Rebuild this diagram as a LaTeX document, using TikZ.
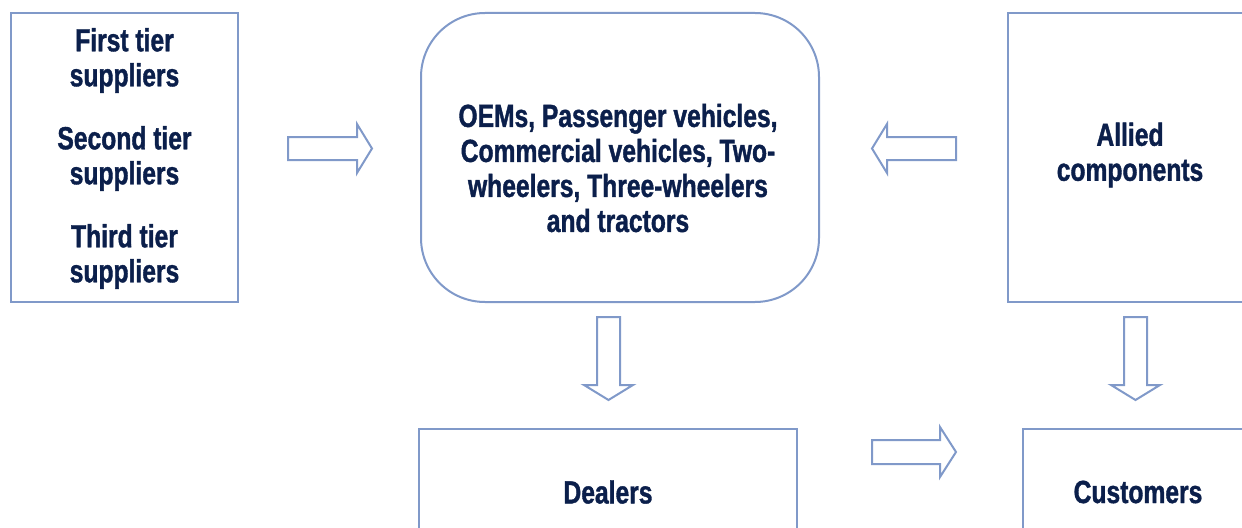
\documentclass[tikz,border=0pt]{standalone}
\usepackage{fontspec}
\setmainfont{Liberation Sans}[BoldFeatures={FakeStretch=0.77,FakeBold=1.2}]
\definecolor{lineblue}{HTML}{8099C9}
\definecolor{textnavy}{HTML}{0B1F4B}
\begin{document}
\begin{tikzpicture}[x=0.75pt,y=-0.75pt,
  boxline/.style={draw=lineblue,line width=1.5pt},
  blockarrow/.style={draw=lineblue,line width=1.5pt,line join=miter,fill=white},
  lbl/.style={text=textnavy,font=\fontsize{24}{26.25}\selectfont\bfseries,align=center,inner sep=0pt}]
\useasboundingbox (0,0) rectangle (1242,528);
\clip (0,0) rectangle (1242,528);
% boxes
\draw[boxline] (11,13) rectangle (238,302);
\coordinate (sup) at (124.5,157.5);
\draw[boxline,rounded corners=48pt] (421,13) rectangle (819,302);
\coordinate (oem) at (620,157.5);
\draw[boxline] (1008,13) rectangle (1270,302);
\coordinate (all) at (1130,157.5);
\draw[boxline] (419,429) rectangle (797,560);
\coordinate (dea) at (608,490);
\draw[boxline] (1023,429) rectangle (1270,560);
\coordinate (cus) at (1138,490);
% labels
\node[lbl] (tsup) at (124.5,158.5) {First tier\\suppliers\\[21pt]Second tier\\suppliers\\[21pt]Third tier\\suppliers};
\node[lbl] (toem) at (618,168) {OEMs, Passenger vehicles,\\Commercial vehicles, Two-\\wheelers, Three-wheelers\\and tractors};
\node[lbl] (tall) at (1130,155) {Allied\\components};
\node[lbl] (tdea) at (608,492) {Dealers};
\node[lbl] (tcus) at (1138,492) {Customers};
% block arrows
\draw[blockarrow] (288,137) -- (357,137) -- (357,124) -- (372,148.5) -- (357,173) -- (357,160) -- (288,160) -- cycle;
\draw[blockarrow] (956,137) -- (887,137) -- (887,124) -- (872,148.5) -- (887,173) -- (887,160) -- (956,160) -- cycle;
\draw[blockarrow] (597,317) -- (597,385) -- (584,385) -- (608.5,400) -- (633,385) -- (620,385) -- (620,317) -- cycle;
\draw[blockarrow] (1124,317) -- (1124,385) -- (1111,385) -- (1135.5,400) -- (1160,385) -- (1147,385) -- (1147,317) -- cycle;
\draw[blockarrow] (872,440) -- (940,440) -- (940,427) -- (956,452) -- (940,477) -- (940,464) -- (872,464) -- cycle;
\end{tikzpicture}
\end{document}
